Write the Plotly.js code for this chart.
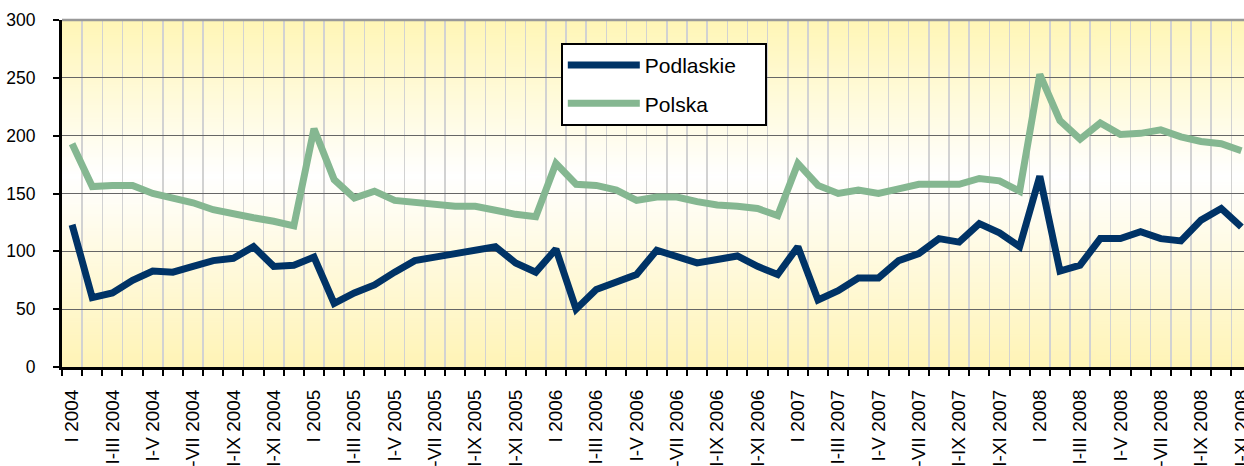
<!DOCTYPE html>
<html><head><meta charset="utf-8">
<script src="https://cdn.plot.ly/plotly-3.0.1.min.js"></script>
<style>html,body{margin:0;padding:0;overflow:hidden;background:#fff}#chart{width:1244px;height:466px}</style>
</head><body><div id="chart"></div><script>
const years = [2004, 2005, 2006, 2007, 2008];
const months = ["I","II","III","IV","V","VI","VII","VIII","IX","X","XI","XII"];

const podlaskie = [123, 60, 64, 75, 83, 82, 87, 92, 94, 104, 87, 88,
  95, 55, 64, 71, 82, 92, 95, 98, 100, 104, 90, 82,
  102, 50, 67, 73, 80, 101, 95, 90, 93, 96, 87, 80,
  104, 58, 66, 77, 77, 92, 98, 111, 108, 124, 116, 104,
  165, 83, 88, 111, 111, 117, 111, 109, 127, 137, 121];

const polska = [193, 156, 157, 157, 150, 146, 142, 136, 132, 129, 126, 122,
  206, 162, 146, 152, 144, 142, 140, 139, 139, 135, 132, 130,
  176, 158, 157, 153, 144, 147, 147, 143, 140, 139, 137, 131,
  176, 157, 150, 153, 150, 154, 158, 158, 158, 163, 161, 152,
  253, 213, 197, 211, 201, 202, 205, 199, 195, 193, 187];

const categories = [];
years.forEach(y => months.forEach((m, i) => {
  categories.push(i === 0 ? "I " + y : "I-" + m + " " + y);
}));
categories.length = podlaskie.length;
const tickText = categories.map((c, i) => (i % 2 === 0 ? c : ''));

// background gradient
const cv = document.createElement('canvas');
cv.width = 4; cv.height = 400;
const ctx = cv.getContext('2d');
const g = ctx.createLinearGradient(0, 0, 0, 400);
g.addColorStop(0, '#FFF6B6');
g.addColorStop(0.45, '#FFFFFF');
g.addColorStop(1, '#FFF4B6');
ctx.fillStyle = g; ctx.fillRect(0, 0, 4, 400);

const pad = '\u00a0\u00a0\u00a0\u00a0';
const traces = [
  {x: categories, y: podlaskie, name: 'Podlaskie' + pad, type: 'scatter', mode: 'lines',
   line: {color: '#003366', width: 7}, legendgroup: 'a'},
  {x: categories, y: polska, name: 'Polska', type: 'scatter', mode: 'lines',
   line: {color: '#85B791', width: 7}, legendgroup: 'b'}
];

const layout = {
  width: 1244, height: 466,
  margin: {l: 62, r: 0, t: 20, b: 99, pad: 0},
  paper_bgcolor: '#ffffff', plot_bgcolor: 'rgba(0,0,0,0)',
  font: {family: '"Liberation Sans", Arial, sans-serif', color: '#000'},
  images: [{source: cv.toDataURL(), xref: 'paper', yref: 'paper', x: 0, y: 1,
            sizex: 1, sizey: 1, sizing: 'stretch', layer: 'below', xanchor: 'left', yanchor: 'top'}],
  shapes: [{type: 'line', xref: 'paper', yref: 'paper', x0: 0, x1: 1, y0: 1, y1: 1,
            line: {color: '#999999', width: 2.5}}],
  xaxis: {type: 'category', categoryarray: categories, range: [-0.5, 58.13],
          tickvals: categories, ticktext: tickText, tickangle: -90, tickson: 'boundaries',
          ticks: 'outside', ticklen: 6, tickwidth: 2, tickcolor: '#000',
          showgrid: true, gridcolor: '#D2D2D2', gridwidth: 1.5,
          showline: true, linecolor: '#000', linewidth: 3,
          tickfont: {size: 19}, ticklabelstandoff: 12, zeroline: false},
  yaxis: {range: [0, 300], tick0: 0, dtick: 50, showgrid: true, gridcolor: '#666666', gridwidth: 1,
          ticks: 'outside', ticklen: 6, tickwidth: 2, tickcolor: '#000',
          showline: true, linecolor: '#000', linewidth: 3,
          tickfont: {size: 17.5}, ticklabelstandoff: 14, zeroline: false},
  showlegend: true,
  legend: {x: 0.422, y: 0.934, xanchor: 'left', yanchor: 'top', bgcolor: '#ffffff',
           bordercolor: '#000', borderwidth: 2, font: {size: 21}, tracegroupgap: 8, itemwidth: 72}
};
Plotly.newPlot('chart', traces, layout, {staticPlot: true, displayModeBar: false});
</script></body></html>
